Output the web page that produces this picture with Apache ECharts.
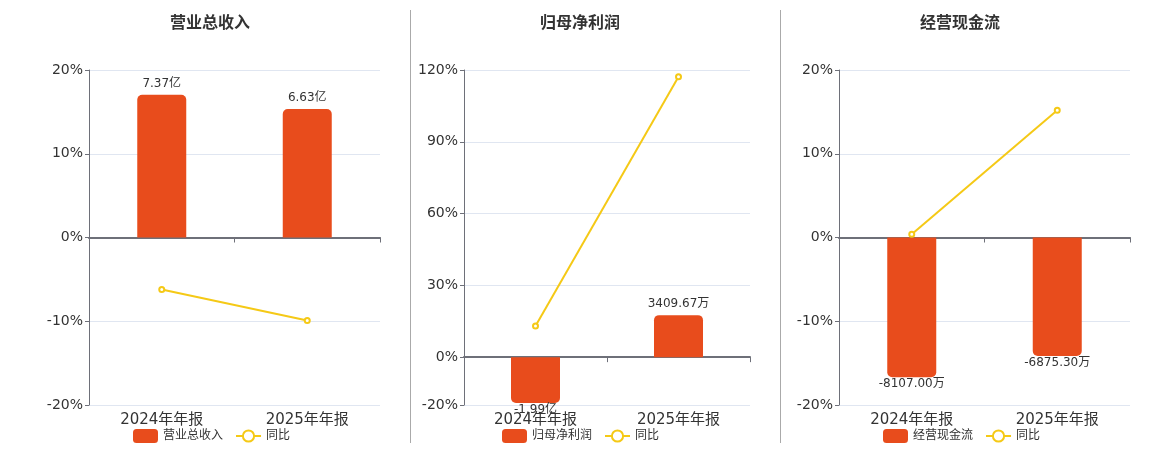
<!DOCTYPE html>
<html>
<head>
<meta charset="utf-8">
<title>财务指标</title>
<style>html,body{margin:0;padding:0;background:#fff;}</style>
</head>
<body>
<div id="main" style="width:1160px;height:450px;"></div>
<script src="https://cdn.jsdelivr.net/npm/echarts@6/dist/echarts.min.js"></script>
<script>
// 报告期
var periods = ['2024年年报', '2025年年报'];
// 指标名称
var names = ['营业总收入', '归母净利润', '经营现金流'];
// 数值（单位：万元）
var revenue = [73700, 66300];
var netProfit = [-19900, 3409.67];
var cashFlow = [-8107.00, -6875.30];
// 同比（%）
var revenueYoy = [-6.2, -9.9];
var profitYoy = [13.0, 117.2];
var cashYoy = [0.4, 15.2];
// 左侧百分比刻度
var pctTicks1 = [-20, -10, 0, 10, 20];
var pctTicks2 = [-20, 0, 30, 60, 90, 120];
var pctTicks3 = [-20, -10, 0, 10, 20];

var FONT = 'DejaVu Sans, "Noto Sans CJK SC", sans-serif';
var BAR_COLOR = '#E84C1C';
var LINE_COLOR = '#F5C916';

// 每个面板的布局
var panels = [
    {name: names[0], bars: revenue, yoy: revenueYoy, ticks: pctTicks1, left: 89, right: 780, center: 210, legendLeft: 133, barMin: -86500, barMax: 86500, minH: 0},
    {name: names[1], bars: netProfit, yoy: profitYoy, ticks: pctTicks2, left: 464, right: 410, center: 580, legendLeft: 502, barMin: -20770, barMax: 124620, minH: 42},
    {name: names[2], bars: cashFlow, yoy: cashYoy, ticks: pctTicks3, left: 839, right: 30, center: 960, legendLeft: 883, barMin: -9720, barMax: 9720, minH: 0}
];

function fmt(v) {
    return Math.abs(v) >= 10000 ? (v / 10000).toFixed(2) + '亿' : v.toFixed(2) + '万';
}

function barItems(arr) {
    return arr.map(function (v) {
        var neg = v < 0;
        return {
            value: v,
            itemStyle: {borderRadius: neg ? [0, 0, 5, 5] : [5, 5, 0, 0]},
            label: {position: neg ? 'bottom' : 'top', distance: neg ? 1 : 5}
        };
    });
}

var option = {
    animation: false,
    textStyle: {fontFamily: FONT},
    title: [], legend: [], grid: [], xAxis: [], yAxis: [], series: [],
    graphic: [
        {type: 'line', shape: {x1: 410.5, y1: 10, x2: 410.5, y2: 443}, style: {stroke: '#aaa', lineWidth: 1}},
        {type: 'line', shape: {x1: 780.5, y1: 10, x2: 780.5, y2: 443}, style: {stroke: '#aaa', lineWidth: 1}}
    ]
};

panels.forEach(function (p, i) {
    var t = p.ticks;
    option.title.push({
        text: p.name, left: p.center, top: 16, textAlign: 'center', padding: 0,
        textStyle: {fontSize: 16, fontWeight: 'bold', color: '#333', fontFamily: FONT}
    });
    option.legend.push({
        data: [p.name, '同比'], left: p.legendLeft, top: 429, padding: 0,
        itemWidth: 25, itemHeight: 14, itemGap: 12,
        textStyle: {fontSize: 12, color: '#333', fontFamily: FONT}
    });
    option.grid.push({left: p.left, right: p.right, top: 70, bottom: 45});

    // 底部类目标签
    option.xAxis.push({
        type: 'category', gridIndex: i, data: periods, position: 'bottom',
        axisLine: {show: false, onZero: false}, axisTick: {show: false},
        axisLabel: {fontSize: 15, color: '#333', margin: 8, fontFamily: FONT}
    });
    // 零轴
    option.xAxis.push({
        type: 'category', gridIndex: i, data: periods, position: 'bottom',
        axisLine: {show: true, onZero: true, lineStyle: {color: '#6E7079', width: 2}},
        axisTick: {show: true, length: 5, lineStyle: {color: '#6E7079'}},
        axisLabel: {show: false}
    });

    option.yAxis.push({
        type: 'value', gridIndex: i, position: 'left',
        min: t[0], max: t[t.length - 1],
        axisLine: {show: true, lineStyle: {color: '#6E7079'}},
        axisTick: {show: true, length: 4, customValues: t},
        axisLabel: {customValues: t, fontSize: 14, color: '#333', margin: 6, fontFamily: FONT,
            formatter: function (v) { return v + '%'; }},
        splitLine: {show: true, lineStyle: {color: '#E0E6F1'}}
    });
    option.yAxis.push({
        type: 'value', gridIndex: i, position: 'right', show: false,
        min: p.barMin, max: p.barMax, splitLine: {show: false}
    });

    option.series.push({
        name: p.name, type: 'bar', xAxisIndex: i * 2, yAxisIndex: i * 2 + 1,
        barWidth: 49, barMinHeight: p.minH,
        itemStyle: {color: BAR_COLOR},
        label: {show: true, fontSize: 12, color: '#333', fontFamily: FONT,
            formatter: function (d) { return fmt(d.value); }},
        data: barItems(p.bars)
    });
    option.series.push({
        name: '同比', type: 'line', xAxisIndex: i * 2 + 1, yAxisIndex: i * 2,
        symbol: 'emptyCircle', symbolSize: 5,
        lineStyle: {color: LINE_COLOR, width: 2},
        itemStyle: {color: LINE_COLOR, borderWidth: 1.5},
        data: p.yoy
    });
});

var myChart = echarts.init(document.getElementById('main'));
myChart.setOption(option);
</script>
</body>
</html>
